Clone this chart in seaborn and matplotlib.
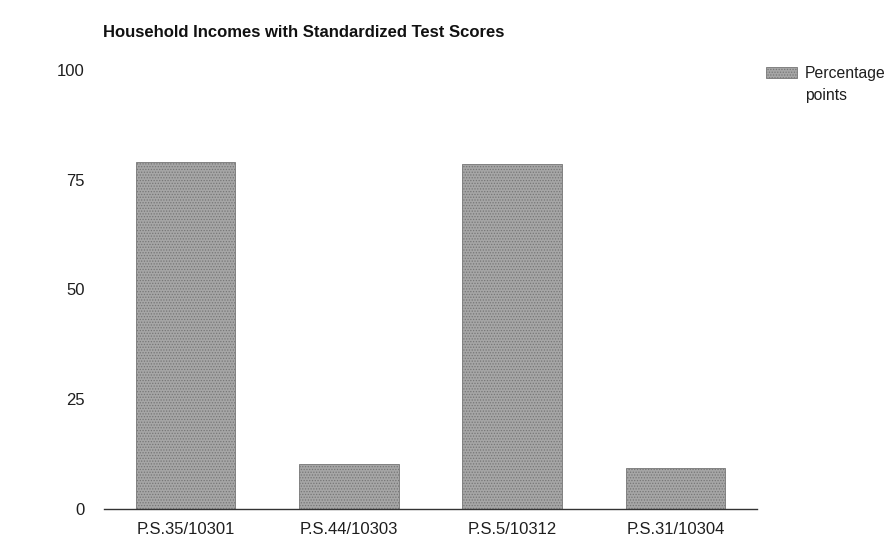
import matplotlib
matplotlib.use("Agg")
import matplotlib.pyplot as plt
import seaborn as sns
import pandas as pd

# data
schools = ["P.S.35/10301", "P.S.44/10303", "P.S.5/10312", "P.S.31/10304"]
points = [79.0, 10.2, 78.6, 9.4]
y_ticks = [0, 25, 50, 75, 100]
series_name = "Percentage"
series_name_2 = "points"
title = "Household Incomes with Standardized Test Scores"

df = pd.DataFrame({"school": schools, "points": points})

sns.set_style("white")
plt.rcParams["font.family"] = ["Liberation Sans", "DejaVu Sans"]
plt.rcParams["hatch.color"] = "#6e6e6e"
plt.rcParams["hatch.linewidth"] = 0.6

fig = plt.figure(figsize=(8.89, 5.4), dpi=100)
ax = fig.add_axes([0.117, 0.0574, 0.7345, 0.813])

sns.barplot(data=df, x="school", y="points", color="#a6a6a6", width=0.61,
            saturation=1, label=series_name, ax=ax)
for bar in ax.patches:
    bar.set_hatch("......")
    bar.set_edgecolor("#767676")
    bar.set_linewidth(0.6)

ax.set_ylim(0, 100)
ax.set_xlim(-0.5, 3.5)
ax.set_yticks(y_ticks)
ax.set_xlabel("")
ax.set_ylabel("")
ax.tick_params(axis="both", length=0, labelsize=12, colors="#1e1e1e")
ax.tick_params(axis="y", pad=14)
ax.tick_params(axis="x", pad=9)

for side in ["top", "right", "left"]:
    ax.spines[side].set_visible(False)
ax.spines["bottom"].set_color("#333333")
ax.spines["bottom"].set_linewidth(1.0)

fig.text(0.116, 1 - 37 / 540, title, fontsize=12, fontweight="bold",
         color="#111111", va="baseline")

leg = ax.legend(loc="upper left", bbox_to_anchor=(766 / 889, 1 - 66 / 540),
                bbox_transform=fig.transFigure, frameon=False, fontsize=11.3,
                borderpad=0, borderaxespad=0, handlelength=1.95,
                handleheight=0.7, handletextpad=0.55)
for txt in leg.get_texts():
    txt.set_color("#1e1e1e")

# second line of the legend label sits under the first one
fig.canvas.draw()
bb = leg.get_texts()[0].get_window_extent()
fig.text(bb.x0 / fig.bbox.width, (bb.y0 - 7) / fig.bbox.height, series_name_2,
         fontsize=11.3, color="#1e1e1e", va="top", ha="left")

fig.savefig("out.png", dpi=100)
